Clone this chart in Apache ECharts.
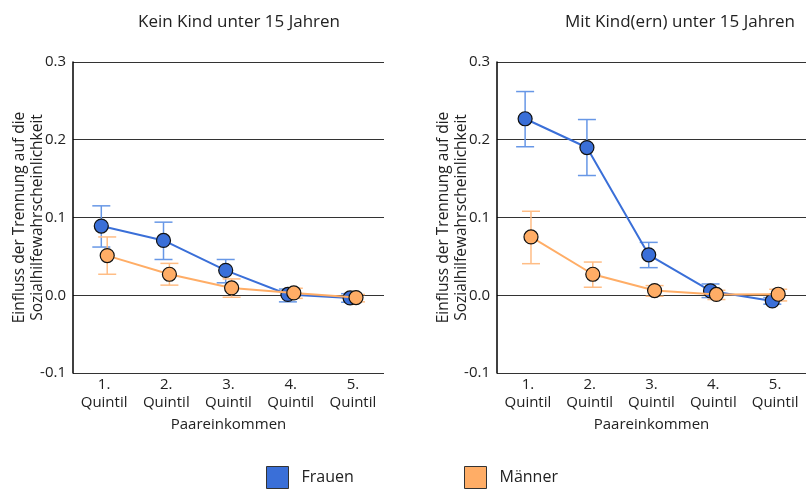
<!DOCTYPE html>
<html><head><meta charset="utf-8">
<script src="https://cdn.jsdelivr.net/npm/echarts@6/dist/echarts.min.js"></script>
<style>html,body{margin:0;padding:0;background:#fff}#c{width:806px;height:490px}</style>
</head><body><div id="c"></div><script>
const categories = ['1.\nQuintil', '2.\nQuintil', '3.\nQuintil', '4.\nQuintil', '5.\nQuintil'];
const panelTitles = ['Kein Kind unter 15 Jahren', 'Mit Kind(ern) unter 15 Jahren'];
const seriesNames = ['Frauen', 'Männer'];
const yAxisName = 'Einfluss der Trennung auf die\nSozialhilfewahrscheinlichkeit';
const xAxisName = 'Paareinkommen';

// Panel 1: Kein Kind unter 15 Jahren
const frauenOhne = [0.089, 0.0705, 0.032, 0.001, -0.0035];
const frauenOhneLow = [0.062, 0.046, 0.016, -0.0085, -0.009];
const frauenOhneHigh = [0.115, 0.094, 0.046, 0.008, 0.002];
const maennerOhne = [0.051, 0.027, 0.0094, 0.003, -0.003];
const maennerOhneLow = [0.027, 0.013, -0.0026, -0.004, -0.0085];
const maennerOhneHigh = [0.075, 0.041, 0.021, 0.009, 0.001];

// Panel 2: Mit Kind(ern) unter 15 Jahren
const frauenMit = [0.227, 0.190, 0.052, 0.0055, -0.0073];
const frauenMitLow = [0.191, 0.154, 0.0355, -0.003, -0.0115];
const frauenMitHigh = [0.262, 0.226, 0.068, 0.0145, -0.003];
const maennerMit = [0.075, 0.027, 0.006, 0.001, 0.0013];
const maennerMitLow = [0.0406, 0.0103, -0.0013, -0.0055, -0.0073];
const maennerMitHigh = [0.108, 0.0427, 0.0124, 0.0064, 0.0077];

const blue = '#3a6fd8', orange = '#ffad66';
const blueErr = '#6797e6', orangeErr = '#ffbd85';
const dodge = [-0.045, 0.05];
const font = 'Open Sans';

const panels = [
  {f: frauenOhne, fl: frauenOhneLow, fh: frauenOhneHigh, m: maennerOhne, ml: maennerOhneLow, mh: maennerOhneHigh},
  {f: frauenMit, fl: frauenMitLow, fh: frauenMitHigh, m: maennerMit, ml: maennerMitLow, mh: maennerMitHigh}
];
const grids = [
  {left: 73, top: 62, width: 311, height: 311},
  {left: 497, top: 62, width: 309, height: 311}
];

function errRender(color) {
  return function (params, api) {
    const x = api.value(0);
    const lo = api.coord([x, api.value(1)]);
    const hi = api.coord([x, api.value(2)]);
    const w = 9;
    const st = {stroke: color, lineWidth: 1.5};
    return {type: 'group', children: [
      {type: 'line', shape: {x1: lo[0], y1: lo[1], x2: hi[0], y2: hi[1]}, style: st},
      {type: 'line', shape: {x1: lo[0] - w, y1: lo[1], x2: lo[0] + w, y2: lo[1]}, style: st},
      {type: 'line', shape: {x1: hi[0] - w, y1: hi[1], x2: hi[0] + w, y2: hi[1]}, style: st}
    ]};
  };
}

const xAxes = [], yAxes = [], series = [];
panels.forEach((p, i) => {
  xAxes.push({
    type: 'category', gridIndex: i, data: categories, boundaryGap: true,
    axisLine: {show: false}, axisTick: {show: false},
    axisLabel: {interval: 0, color: '#222', fontSize: 15, fontFamily: font, lineHeight: 18, margin: 3},
    name: xAxisName, nameLocation: 'middle', nameGap: 42,
    nameTextStyle: {color: '#222', fontSize: 15, fontFamily: font}
  });
  xAxes.push({
    type: 'value', gridIndex: i, min: 0.5, max: 5.5, show: false
  });
  yAxes.push({
    type: 'value', gridIndex: i, min: -0.1, max: 0.3, interval: 0.1,
    axisLine: {show: true, lineStyle: {color: '#000', width: 1.5}},
    axisTick: {show: false},
    splitLine: {show: true, lineStyle: {color: '#333', width: 1}},
    axisLabel: {color: '#222', fontSize: 15, fontFamily: font, margin: 7,
      formatter: v => (Math.abs(v) < 1e-9 ? 0 : v).toFixed(1)},
    name: yAxisName, nameLocation: 'middle', nameGap: 26, nameMoveOverlap: false,
    nameTextStyle: {color: '#222', fontSize: 15.5, fontFamily: font, lineHeight: 18}
  });
  const xi = i * 2 + 1;
  const groups = [[p.f, p.fl, p.fh, blue, blueErr, 0], [p.m, p.ml, p.mh, orange, orangeErr, 1]];
  groups.forEach(([v, lo, hi, col, ecol, k]) => {
    series.push({
      type: 'custom', name: seriesNames[k], xAxisIndex: xi, yAxisIndex: i,
      renderItem: errRender(ecol), z: 1,
      data: v.map((_, j) => [j + 1 + dodge[k], lo[j], hi[j]]),
      itemStyle: {color: col}, silent: true
    });
  });
  groups.forEach(([v, lo, hi, col, ecol, k]) => {
    series.push({
      type: 'line', name: seriesNames[k], xAxisIndex: xi, yAxisIndex: i,
      data: v.map((y, j) => [j + 1 + dodge[k], y]),
      symbol: 'circle', symbolSize: 14, z: 3 + k,
      lineStyle: {color: col, width: 2},
      itemStyle: {color: col, borderColor: '#111', borderWidth: 1.2},
      animation: false
    });
  });
});

const chart = echarts.init(document.getElementById('c'), null, {renderer: 'canvas'});
chart.setOption({
  animation: false,
  backgroundColor: '#fff',
  title: [
    {text: panelTitles[0], left: 234, top: 9, textAlign: 'center',
      textStyle: {fontSize: 17, fontWeight: 'normal', color: '#222', fontFamily: font}},
    {text: panelTitles[1], left: 675, top: 9, textAlign: 'center',
      textStyle: {fontSize: 17, fontWeight: 'normal', color: '#222', fontFamily: font}}
  ],
  grid: grids,
  xAxis: xAxes,
  yAxis: yAxes,
  legend: [
    {data: [seriesNames[0]], left: 266, top: 466, padding: 0, icon: 'rect', itemWidth: 22, itemHeight: 22,
      itemStyle: {borderColor: '#333', borderWidth: 1},
      textStyle: {fontSize: 16, color: '#222', fontFamily: font, padding: [24, 0, 0, 8]}, selectedMode: false},
    {data: [seriesNames[1]], left: 464, top: 466, padding: 0, icon: 'rect', itemWidth: 22, itemHeight: 22,
      itemStyle: {borderColor: '#333', borderWidth: 1},
      textStyle: {fontSize: 16, color: '#222', fontFamily: font, padding: [24, 0, 0, 8]}, selectedMode: false}
  ],
  series: series
});
</script></body></html>
